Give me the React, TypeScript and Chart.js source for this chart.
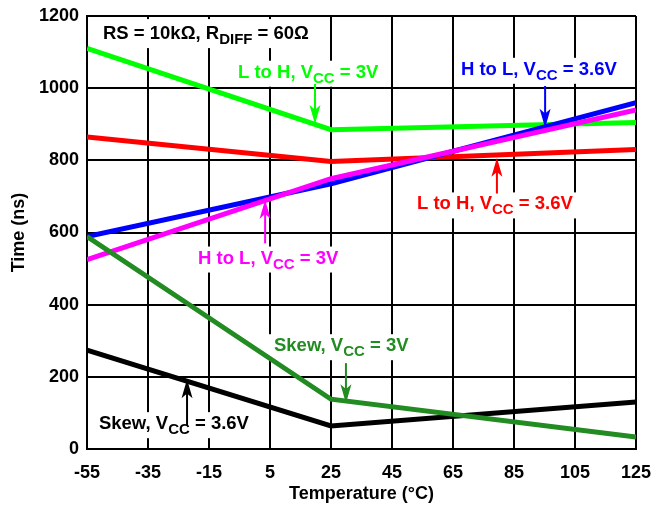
import React, { useEffect, useRef } from "react";
import { Chart, registerables } from "chart.js";

Chart.register(...registerables);

// ---- Data ----
const temperatures = [-55, 25, 125];
const lToH3V = [1110, 885, 905];
const hToL36V = [589, 735, 960];
const lToH36V = [865, 797, 830];
const hToL3V = [525, 749, 940];
const skew3V = [589, 138, 33];
const skew36V = [274, 64, 130];

const xTicks = [-55, -35, -15, 5, 25, 45, 65, 85, 105, 125];
const yTicks = [0, 200, 400, 600, 800, 1000, 1200];

const FONT = "'Liberation Sans', Arial, Helvetica, sans-serif";

const C_GREEN = "#00ff00";
const C_BLUE = "#0000ff";
const C_RED = "#ff0000";
const C_MAGENTA = "#ff00ff";
const C_DKGREEN = "#228b22";
const C_BLACK = "#000000";

type Part = { t: string; sub?: boolean };
type Note = {
  x: number;
  y: number;
  parts: Part[];
  color: string;
  topPad?: number;
  arrow?: { x: number; from: number; to: number };
};

// annotation anchors in data coordinates (x: °C, y: ns); text left / baseline
const notes: Note[] = [
  {
    x: -49.75, y: 1136, color: C_BLACK, topPad: 20,
    parts: [{ t: "RS = 10kΩ, R" }, { t: "DIFF", sub: true }, { t: " = 60Ω" }],
  },
  {
    x: -5.5, y: 1029, color: C_GREEN,
    parts: [{ t: "L to H, V" }, { t: "CC", sub: true }, { t: " = 3V" }],
    arrow: { x: 19.75, from: 1012, to: 901 },
  },
  {
    x: 67.6, y: 1037, color: C_BLUE,
    parts: [{ t: "H to L, V" }, { t: "CC", sub: true }, { t: " = 3.6V" }],
    arrow: { x: 95.2, from: 1006, to: 890 },
  },
  {
    x: 53.2, y: 664, color: C_RED,
    parts: [{ t: "L to H, V" }, { t: "CC", sub: true }, { t: " = 3.6V" }],
    arrow: { x: 79.4, from: 708, to: 807 },
  },
  {
    x: -18.6, y: 514, color: C_MAGENTA,
    parts: [{ t: "H to L, V" }, { t: "CC", sub: true }, { t: " = 3V" }],
    arrow: { x: 3.4, from: 570, to: 691 },
  },
  {
    x: 6.3, y: 271, color: C_DKGREEN,
    parts: [{ t: "Skew, V" }, { t: "CC", sub: true }, { t: " = 3V" }],
    arrow: { x: 29.9, from: 238, to: 127 },
  },
  {
    x: -51.1, y: 55, color: C_BLACK,
    parts: [{ t: "Skew, V" }, { t: "CC", sub: true }, { t: " = 3.6V" }],
    arrow: { x: -22.2, from: 66, to: 193 },
  },
];

const MAIN_FONT = `bold 18.5px ${FONT}`;
const SUB_FONT = `bold 15px ${FONT}`;

function measure(ctx: CanvasRenderingContext2D, parts: Part[]) {
  let w = 0;
  for (const p of parts) {
    ctx.font = p.sub ? SUB_FONT : MAIN_FONT;
    w += ctx.measureText(p.t).width;
  }
  return w;
}

const notesPlugin = {
  id: "notes",
  beforeDatasetsDraw(chart: any) {
    const ctx: CanvasRenderingContext2D = chart.ctx;
    const xs = chart.scales.x;
    const ys = chart.scales.y;
    ctx.save();
    for (const n of notes) {
      const px = xs.getPixelForValue(n.x);
      const py = ys.getPixelForValue(n.y);
      const w = measure(ctx, n.parts);
      const top = py - (n.topPad ?? 17);
      const bottom = py + 9;
      ctx.fillStyle = "#ffffff";
      ctx.fillRect(px - 6, top, w + 12, bottom - top);
    }
    ctx.restore();
  },
  afterDatasetsDraw(chart: any) {
    const ctx: CanvasRenderingContext2D = chart.ctx;
    const xs = chart.scales.x;
    const ys = chart.scales.y;
    ctx.save();
    ctx.textBaseline = "alphabetic";
    ctx.textAlign = "left";
    for (const n of notes) {
      let px = xs.getPixelForValue(n.x);
      const py = ys.getPixelForValue(n.y);
      ctx.fillStyle = n.color;
      for (const p of n.parts) {
        ctx.font = p.sub ? SUB_FONT : MAIN_FONT;
        ctx.fillText(p.t, px, p.sub ? py + 5 : py);
        px += ctx.measureText(p.t).width;
      }
      if (n.arrow) {
        const ax = xs.getPixelForValue(n.arrow.x);
        const y0 = ys.getPixelForValue(n.arrow.from);
        const y1 = ys.getPixelForValue(n.arrow.to);
        const dir = y1 > y0 ? 1 : -1;
        const headLen = 19;
        const headHalf = 5.5;
        ctx.strokeStyle = n.color;
        ctx.lineWidth = 2;
        ctx.beginPath();
        ctx.moveTo(ax, y0);
        ctx.lineTo(ax, y1 - dir * headLen * 0.6);
        ctx.stroke();
        ctx.beginPath();
        ctx.moveTo(ax, y1);
        ctx.lineTo(ax - headHalf, y1 - dir * headLen);
        ctx.lineTo(ax, y1 - dir * headLen * 0.75);
        ctx.lineTo(ax + headHalf, y1 - dir * headLen);
        ctx.closePath();
        ctx.fill();
      }
    }
    ctx.restore();
  },
};

function series(label: string, values: number[], color: string) {
  return {
    label,
    data: temperatures.map((t, i) => ({ x: t, y: values[i] })),
    borderColor: color,
    backgroundColor: color,
    borderWidth: 5,
    pointRadius: 0,
    tension: 0,
    fill: false,
  };
}

export default function App() {
  const ref = useRef<HTMLCanvasElement>(null);

  useEffect(() => {
    const tickFont = { family: FONT, size: 18, weight: "bold" as const };
    const chart = new Chart(ref.current!, {
      type: "line",
      data: {
        datasets: [
          series("Skew, VCC = 3V", skew3V, C_DKGREEN),
          series("H to L, VCC = 3V", hToL3V, C_MAGENTA),
          series("H to L, VCC = 3.6V", hToL36V, C_BLUE),
          series("L to H, VCC = 3V", lToH3V, C_GREEN),
          series("L to H, VCC = 3.6V", lToH36V, C_RED),
          series("Skew, VCC = 3.6V", skew36V, C_BLACK),
        ],
      },
      options: {
        responsive: false,
        animation: false,
        devicePixelRatio: 1,
        layout: { padding: { left: 0, top: 16, right: 25, bottom: 0 } },
        plugins: {
          legend: { display: false },
          tooltip: { enabled: false },
        },
        scales: {
          x: {
            type: "linear",
            min: -55,
            max: 125,
            afterBuildTicks: (s: any) => {
              s.ticks = xTicks.map((v) => ({ value: v }));
            },
            afterFit: (s: any) => {
              s.height = 59;
              s.paddingLeft = 0;
              s.paddingRight = 0;
            },
            ticks: {
              font: tickFont,
              color: "#000",
              padding: 13,
              maxRotation: 0,
              autoSkip: false,
              callback: (v: any) => String(v),
            },
            grid: { color: "#000", lineWidth: 2, drawTicks: false },
            border: { color: "#000", width: 2 },
            title: {
              display: true,
              text: "Temperature (°C)",
              font: tickFont,
              color: "#000",
              padding: { top: 0, bottom: 3 },
            },
          },
          y: {
            type: "linear",
            min: 0,
            max: 1200,
            afterBuildTicks: (s: any) => {
              s.ticks = yTicks.map((v) => ({ value: v }));
            },
            afterFit: (s: any) => {
              s.width = 87;
              s.paddingTop = 0;
              s.paddingBottom = 0;
            },
            ticks: {
              font: tickFont,
              color: "#000",
              padding: 8,
              autoSkip: false,
              callback: (v: any) => String(v),
            },
            grid: { color: "#000", lineWidth: 2, drawTicks: false },
            border: { color: "#000", width: 2 },
            title: {
              display: true,
              text: "Time (ns)",
              font: tickFont,
              color: "#000",
              padding: { top: 8, bottom: 0 },
            },
          },
        },
      },
      plugins: [notesPlugin],
    });
    return () => chart.destroy();
  }, []);

  return (
    <div
      style={{
        position: "absolute",
        left: 0,
        top: 0,
        width: 661,
        height: 508,
        background: "#ffffff",
      }}
    >
      <canvas
        ref={ref}
        width={661}
        height={508}
        style={{ width: 661, height: 508, display: "block" }}
      />
    </div>
  );
}
